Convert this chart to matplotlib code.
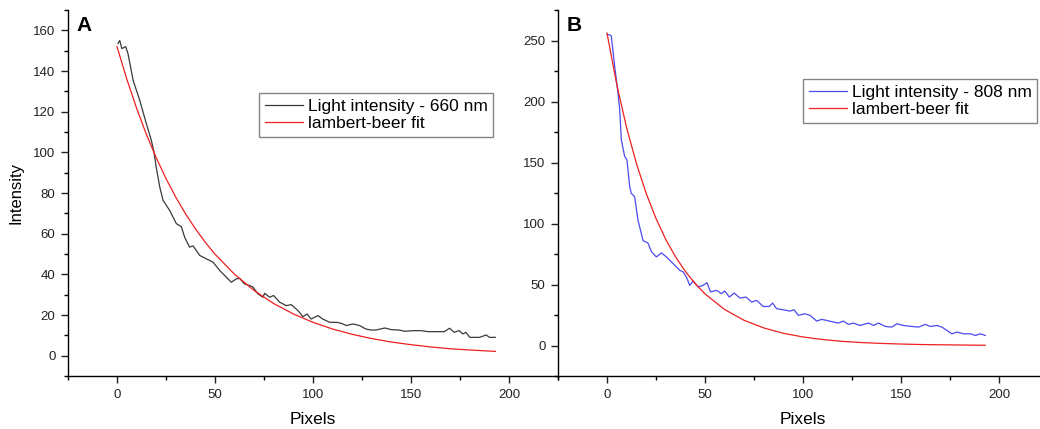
"""Light intensity profiles with Lambert-Beer fits for 660 nm and 808 nm."""

import matplotlib
matplotlib.use("Agg")
import matplotlib.pyplot as plt
from matplotlib.ticker import MultipleLocator

plt.rcParams["font.family"] = ["Liberation Sans", "DejaVu Sans"]

# panel A: measured 660 nm profile
A_X = [0.5, 1.4, 2.5, 4.4, 5.6, 8.2, 11.6, 15, 17.5, 18.9, 20, 21.8, 23.5, 26.9,
       30.3, 32.8, 34.5, 37, 38.8, 42.2, 45.6, 49, 52.4, 55.8, 58.3, 60.9, 62.6,
       65, 67.7, 69.4, 71.9, 74.5, 75.3, 77.9, 79.9, 83, 86.4, 88.9, 92.3, 94.9,
       97, 99, 102.5, 105, 108.5, 112, 114.5, 117, 120.4, 123.8, 127, 129.7, 132,
       136.6, 140, 144, 146.8, 151, 155.3, 158.7, 163, 167, 169.7, 172, 174.5,
       176.5, 178, 180, 185, 188.4, 190, 193]
A_Y = [153.5, 155, 151, 152, 148.6, 135.5, 125.6, 114, 106, 100, 92.8, 83, 76.4,
       71.4, 64.9, 63.5, 58.3, 53.4, 54, 49.3, 47.6, 46, 41.9, 38.6, 36.1, 37.8,
       38, 35.3, 34.5, 33.7, 30.4, 28.7, 30.7, 28.7, 29.6, 26.3, 24.6, 25.1,
       22.2, 19.2, 20.5, 18, 19.7, 18, 16.4, 16.4, 15.9, 14.8, 15.6, 14.8, 13.1,
       12.6, 12.6, 13.6, 12.8, 12.6, 12, 12.3, 12.3, 11.8, 11.8, 11.8, 13.5,
       11.5, 12.3, 10.7, 11.5, 9, 9, 10.2, 9, 9]

# panel A: fit
A_FIT_X = [0, 5, 10, 15, 20, 25, 30, 35, 40, 45, 50, 60, 70, 80, 90, 100, 110,
           120, 130, 140, 150, 160, 170, 180, 193]
A_FIT_Y = [152, 136.0, 121.7, 108.8, 97.4, 87.1, 77.9, 69.7, 62.4, 55.8, 49.9,
           40.0, 32.0, 25.6, 20.5, 16.4, 13.1, 10.5, 8.4, 6.7, 5.4, 4.3, 3.4,
           2.8, 2.1]

# panel B: measured 808 nm profile
B_X = [0, 1.7, 2.2, 3.9, 5.6, 6.5, 7.3, 9, 10.2, 11.6, 12.4, 14.1, 15.8, 18.4,
       20.9, 22.7, 25.2, 27.8, 30.3, 32.9, 35.4, 37.1, 38.8, 40.5, 42.2, 44,
       46.5, 49, 51, 52.8, 55.9, 58.4, 60.1, 62.4, 64.9, 67.8, 70.9, 73.8, 76.3,
       79.7, 82.8, 84.5, 86.5, 89.9, 93.4, 95.4, 97.6, 101, 103.6, 107, 109.5,
       112, 115.5, 118, 120.6, 123.2, 125.7, 129, 133.4, 136, 138.5, 142, 145.3,
       148, 151.3, 155.5, 159, 162.4, 165, 168.3, 170.9, 173.4, 176, 178.5, 182,
       185.4, 188, 190.5, 193]
B_Y = [255, 254.4, 253.5, 229, 207, 193, 168.6, 155, 152, 130, 124.7, 122,
       102.8, 86, 84, 76.8, 72.6, 75.9, 72.6, 68.5, 64.4, 61.7, 60.3, 56.2, 49.3,
       52.9, 48, 49.3, 51.5, 43.9, 45.2, 42.5, 44.7, 39.7, 43, 38.9, 39.7, 35.6,
       37, 32, 32, 34.8, 30.2, 29.3, 28.2, 29.3, 24.7, 26, 24.7, 20, 21.4, 20.6,
       19.2, 18.4, 20, 17.3, 18.4, 16.4, 18.4, 16.4, 18.4, 15.6, 15.1, 17.8,
       16.4, 15.6, 15.1, 17.3, 15.6, 16.4, 15.1, 12.3, 9.6, 11, 9.6, 9.6, 8.2,
       9.6, 8.2]

# panel B: fit
B_FIT_X = [0, 5, 10, 15, 20, 25, 30, 35, 40, 45, 50, 60, 70, 80, 90, 100, 110,
           120, 130, 140, 150, 160, 170, 180, 193]
B_FIT_Y = [256, 213.8, 178.6, 149.2, 124.6, 104.1, 86.9, 72.6, 60.7, 50.7, 42.3,
           29.5, 20.6, 14.4, 10.0, 7.0, 4.9, 3.4, 2.4, 1.7, 1.2, 0.8, 0.6, 0.4,
           0.2]

FIT_COLOR = "#ee2020"
W, H = 1040, 429


def style_axis(ax, ymajor, yminor):
    ax.spines["top"].set_visible(False)
    ax.spines["right"].set_visible(False)
    for side in ("left", "bottom"):
        ax.spines[side].set_linewidth(1.0)
    ax.xaxis.set_major_locator(MultipleLocator(50))
    ax.xaxis.set_minor_locator(MultipleLocator(25))
    ax.yaxis.set_major_locator(MultipleLocator(ymajor))
    ax.yaxis.set_minor_locator(MultipleLocator(yminor))
    ax.tick_params(which="major", direction="out", length=5, width=1.0,
                   labelsize=9.5, colors="#222222", pad=4)
    ax.tick_params(which="minor", direction="out", length=3, width=1.0)
    ax.set_xlabel("Pixels", fontsize=12.5, labelpad=8.5)


def main():
    fig = plt.figure(figsize=(W / 100, H / 100), dpi=100)
    ax_a = fig.add_axes([68 / W, 53 / H, 490 / W, 366 / H])
    ax_b = fig.add_axes([558 / W, 53 / H, 490 / W, 366 / H])

    ax_a.plot(A_X, A_Y, color="#3a3a3a", linewidth=0.9, label="Light intensity - 660 nm")
    ax_a.plot(A_FIT_X, A_FIT_Y, color=FIT_COLOR, linewidth=0.9, label="lambert-beer fit")
    ax_a.set_xlim(-25, 225)
    ax_a.set_ylim(-10, 170)
    style_axis(ax_a, 20, 10)
    ax_a.set_ylabel("Intensity", fontsize=12, labelpad=7)
    ax_a.text(0.018, 0.958, "A", transform=ax_a.transAxes, fontsize=15,
              fontweight="bold", ha="left", va="center")

    ax_b.plot(B_X, B_Y, color="#4a4aee", linewidth=0.9, label="Light intensity - 808 nm")
    ax_b.plot(B_FIT_X, B_FIT_Y, color=FIT_COLOR, linewidth=0.9, label="lambert-beer fit")
    ax_b.set_xlim(-25, 225)
    ax_b.set_ylim(-25, 275)
    style_axis(ax_b, 50, 25)
    ax_b.text(0.018, 0.958, "B", transform=ax_b.transAxes, fontsize=15,
              fontweight="bold", ha="left", va="center")

    for ax, left, top in ((ax_a, 259, 93), (ax_b, 803, 79)):
        leg = ax.legend(loc="upper left", bbox_to_anchor=(left / W, 1 - top / H),
                        bbox_transform=fig.transFigure, fontsize=12.5, frameon=True,
                        fancybox=False, handlelength=2.2, handletextpad=0.3,
                        borderpad=0.32, labelspacing=0.12, borderaxespad=0)
        leg.get_frame().set_edgecolor("#666666")
        leg.get_frame().set_linewidth(1.0)

    fig.savefig("out.png", dpi=100)
    plt.close(fig)


if __name__ == "__main__":
    main()
